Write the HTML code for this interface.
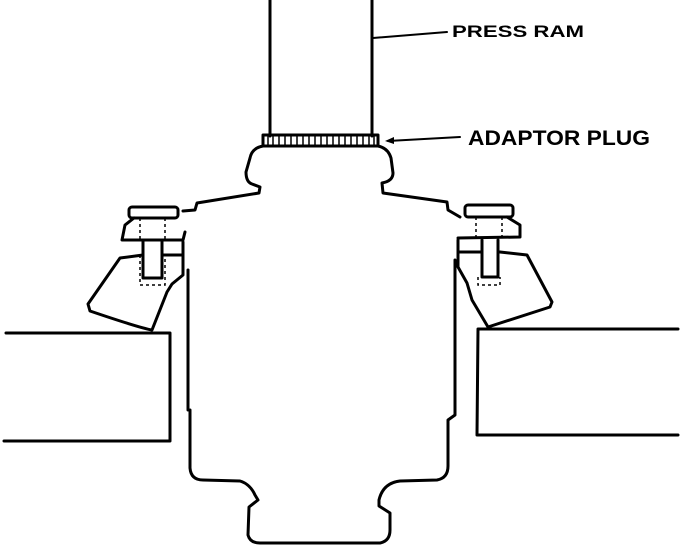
<!DOCTYPE html>
<html><head><style>
html,body{margin:0;padding:0;background:#fff;}
svg{display:block;}
text{font-family:"Liberation Sans",sans-serif;font-weight:bold;fill:#000;}
</style></head><body>
<svg width="688" height="548" viewBox="0 0 688 548" xmlns="http://www.w3.org/2000/svg">
<g fill="none" stroke="#000" stroke-width="3" stroke-linejoin="round" stroke-linecap="round">
<line x1="270" y1="0" x2="270" y2="136"/>
<line x1="372" y1="0" x2="372" y2="136"/>
<rect x="263" y="135" width="115" height="11"/>
<path d="M263,146 Q252,148 250,158 L246,172 Q246,182 252,184 L260,187 L259,193 L197,203 L195,210 L183,211"/>
<path d="M378,146 Q388,148 391,158 L393,173 Q393,181 382,183 L383,193 L447,202 L448,210 L460,217"/>
<rect x="129" y="207" width="49" height="11" rx="3"/>
<path d="M134,218 L125,225 L122,240 L183,240 L185,232"/>
<path d="M143,240 L143,278 L162,278 L162,240" />
<path d="M183,242 L183,275 L172,284 L167,292 L152,330 Q140,328 90,311 L88,304 L120,258 L143,255"/>
<path d="M162,255 L182,255"/>
<line x1="188" y1="270" x2="188" y2="410"/>
<rect x="465" y="205" width="48" height="12" rx="3"/>
<path d="M507,217 L520,225 L520,237 L458,238"/>
<path d="M482,240 L482,277 L498,277 L498,240"/>
<path d="M458,240 L458,267 L467,283 L472,300 L488,327 L550,307 L552,302 L527,255 L500,252 L498,252"/>
<path d="M458,252 L470,252 L482,252"/>
<path d="M190,410 L190,468 Q191,480 203,480 L240,481 Q250,484 255,495 L258,500 L249,507 L248,535 Q250,543 260,543 L380,543 Q390,541 390,530 L390,513 L379,506 L379,500 Q383,483 400,481 L437,480 Q448,478 448,466 L448,420 L455,415 L455,260"/>
<path d="M6,333 L170,333 L170,441 L4,441"/>
<path d="M478,329 L678,329 M478,329 L477,435 L678,435"/>
<line x1="373" y1="38" x2="447" y2="32" stroke-width="2"/>
<line x1="388" y1="141" x2="460" y2="137" stroke-width="2"/>
</g>
<path d="M385,141 L394,137 L394,144 Z" fill="#000"/>
<g stroke="#000" stroke-width="1.5">
<line x1="268" y1="136" x2="268" y2="145"/><line x1="273" y1="136" x2="273" y2="145"/>
<line x1="279" y1="136" x2="279" y2="145"/><line x1="285" y1="136" x2="285" y2="145"/>
<line x1="291" y1="136" x2="291" y2="145"/><line x1="297" y1="136" x2="297" y2="145"/>
<line x1="303" y1="136" x2="303" y2="145"/><line x1="309" y1="136" x2="309" y2="145"/>
<line x1="315" y1="136" x2="315" y2="145"/><line x1="321" y1="136" x2="321" y2="145"/>
<line x1="327" y1="136" x2="327" y2="145"/><line x1="333" y1="136" x2="333" y2="145"/>
<line x1="339" y1="136" x2="339" y2="145"/><line x1="345" y1="136" x2="345" y2="145"/>
<line x1="351" y1="136" x2="351" y2="145"/><line x1="357" y1="136" x2="357" y2="145"/>
<line x1="363" y1="136" x2="363" y2="145"/><line x1="369" y1="136" x2="369" y2="145"/>
<line x1="374" y1="136" x2="374" y2="145"/>
</g>
<g stroke="#000" stroke-width="1.5" stroke-dasharray="3,3" fill="none">
<line x1="140" y1="218" x2="140" y2="240"/><line x1="165" y1="218" x2="165" y2="240"/>
<path d="M140,255 L140,285 L165,285 L165,255"/>
<line x1="476" y1="217" x2="476" y2="238"/><line x1="502" y1="217" x2="502" y2="238"/>
<path d="M478,277 L478,285 L500,285 L500,277"/>
</g>
<text x="452" y="37" font-size="17" textLength="132" lengthAdjust="spacingAndGlyphs">PRESS RAM</text>
<text x="468" y="145" font-size="21" textLength="182" lengthAdjust="spacingAndGlyphs">ADAPTOR PLUG</text>
</svg>
</body></html>
